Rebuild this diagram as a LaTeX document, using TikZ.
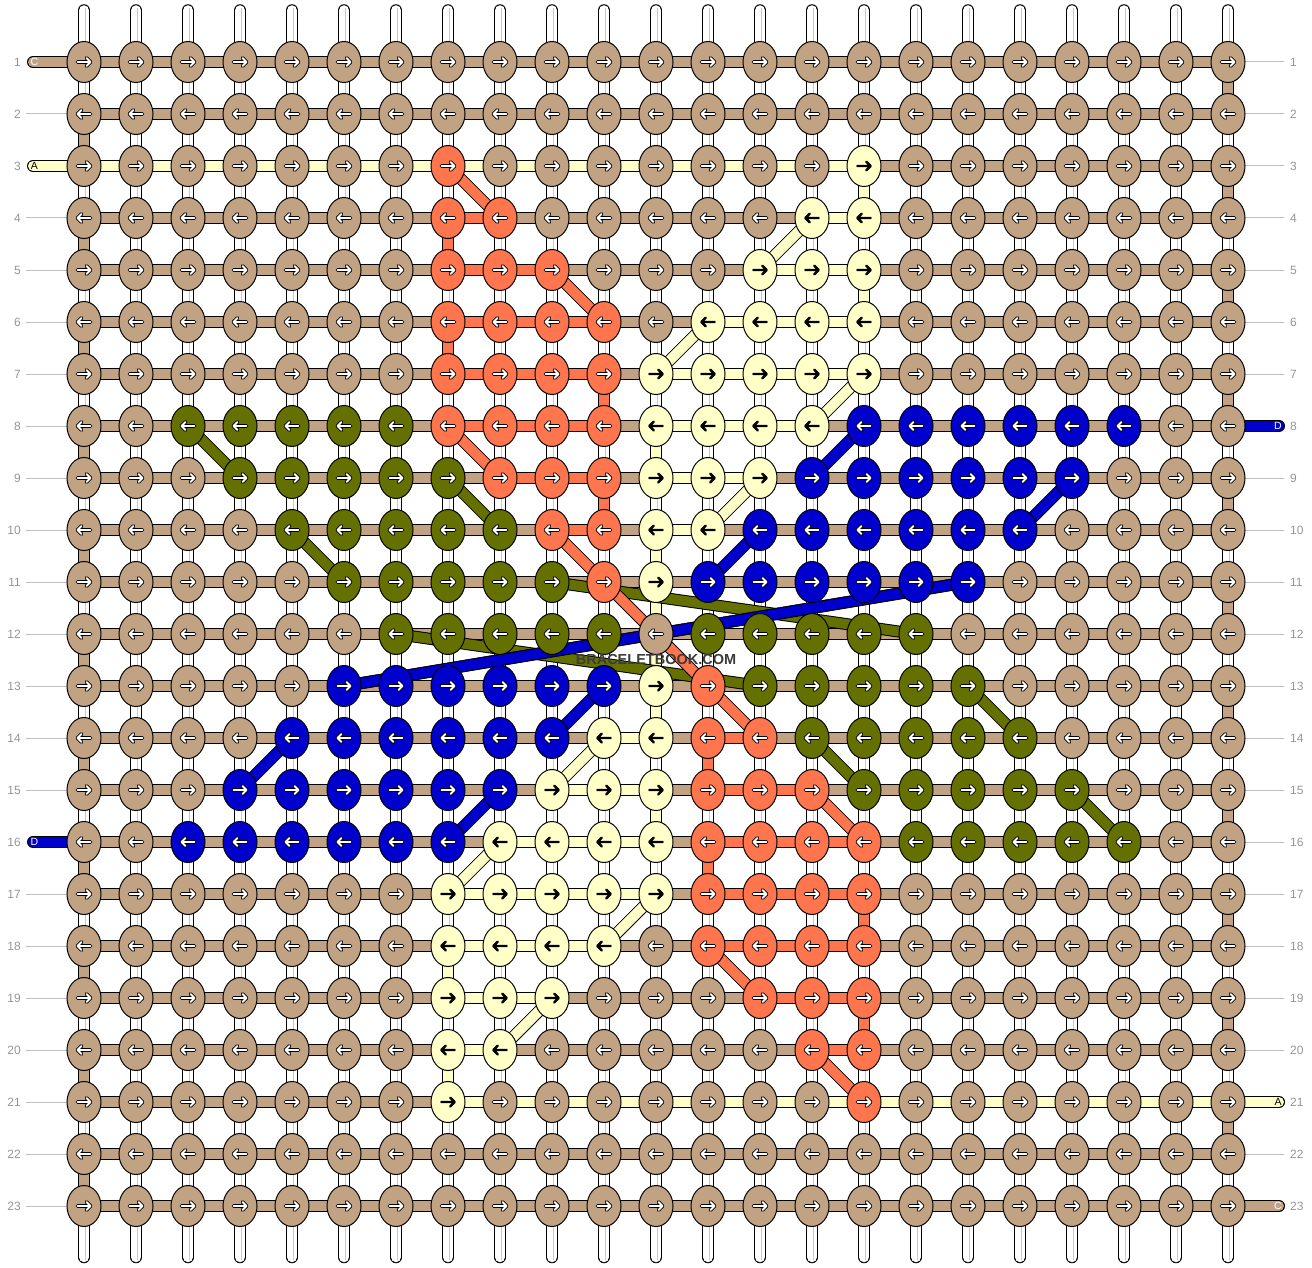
\documentclass[tikz,border=0pt]{standalone}
\usepackage{fontspec}
\setmainfont{Liberation Sans}
\usetikzlibrary{shapes.geometric}
\definecolor{cB}{RGB}{193,162,131}
\definecolor{cO}{RGB}{255,117,77}
\definecolor{cY}{RGB}{255,255,200}
\definecolor{cG}{RGB}{100,112,0}
\definecolor{cU}{RGB}{0,0,204}
\definecolor{lblgrey}{RGB}{150,150,150}
\definecolor{linegrey}{RGB}{190,190,190}
\definecolor{tubegrey}{RGB}{200,200,200}
\definecolor{wmgrey}{RGB}{60,60,60}
\newcommand\setk[3]{%
  \expandafter\gdef\csname kn@#1@#2\endcsname{#3}%
  \pgfmathtruncatemacro\myMc{24-#1}%
  \pgfmathtruncatemacro\myMr{24-#2}%
  \expandafter\gdef\csname kn@\myMc @\myMr\endcsname{#3}}
\newcommand\setrow[4]{\foreach \cc in {#2,...,#3}{\setk{\cc}{#1}{#4}}}
\newcommand\getk[2]{\ifcsname kn@#1@#2\endcsname\edef\kc{\csname kn@#1@#2\endcsname}\else\def\kc{B}\fi}
\tikzset{
  knot/.style={ellipse,draw=black,line width=1pt,minimum width=34pt,minimum height=41pt,inner sep=0pt},
  arrw/.style={line cap=round,line join=round},
  bandout/.style={line width=12pt,black},
  bandin/.style={line width=10pt},
  stubout/.style={line width=12pt,black,line cap=round},
  stubin/.style={line width=10pt,line cap=round},
  tubeout/.style={line width=12.5pt,black,line cap=round},
  tubein/.style={line width=10.5pt,white,line cap=round},
  tubemid/.style={line width=0.9pt,tubegrey},
  lblline/.style={line width=1pt,linegrey},
  rowlbl/.style={font=\fontsize{12}{12}\selectfont,text=lblgrey,inner sep=0pt},
  stublbl/.style={font=\fontsize{10.5}{10.5}\selectfont,inner sep=0pt},
  wmark/.style={font=\fontsize{14.5}{14.5}\selectfont\bfseries,text=wmgrey,inner sep=0pt}
}
\newcommand\band[3]{\draw[bandout] (#2)--(#3); \draw[bandin,color=#1] (#2)--(#3);}
\newcommand\vconn[3]{%
  \pgfmathtruncatemacro\myRa{#2+1}%
  \band{#3}{p-#1-#2}{p-#1-\myRa}%
  \pgfmathtruncatemacro\myMc{24-#1}%
  \pgfmathtruncatemacro\myMr{24-#2}%
  \pgfmathtruncatemacro\myMrr{23-#2}%
  \band{#3}{p-\myMc-\myMrr}{p-\myMc-\myMr}}
\newcommand\dconn[5]{%
  \band{#5}{p-#1-#2}{p-#3-#4}%
  \pgfmathtruncatemacro\myDa{24-#1}%
  \pgfmathtruncatemacro\myDb{24-#2}%
  \pgfmathtruncatemacro\myDc{24-#3}%
  \pgfmathtruncatemacro\myDd{24-#4}%
  \band{#5}{p-\myDa-\myDb}{p-\myDc-\myDd}}
\begin{document}
\begin{tikzpicture}[x=1pt,y=-1pt]
\useasboundingbox (0,0) rectangle (1312,1268);
\fill[white] (0,0) rectangle (1312,1268);
% knot colours (top half; mirrored by 180 degree symmetry)
\setk{8}{3}{O} \setk{16}{3}{Y}
\setrow{4}{8}{9}{O} \setrow{4}{15}{16}{Y}
\setrow{5}{8}{10}{O} \setrow{5}{14}{16}{Y}
\setrow{6}{8}{11}{O} \setrow{6}{13}{16}{Y}
\setrow{7}{8}{11}{O} \setrow{7}{12}{16}{Y}
\setrow{8}{3}{7}{G} \setrow{8}{8}{11}{O} \setrow{8}{12}{15}{Y} \setrow{8}{16}{21}{U}
\setrow{9}{4}{8}{G} \setrow{9}{9}{11}{O} \setrow{9}{12}{14}{Y} \setrow{9}{15}{20}{U}
\setrow{10}{5}{9}{G} \setrow{10}{10}{11}{O} \setrow{10}{12}{13}{Y} \setrow{10}{14}{19}{U}
\setrow{11}{6}{10}{G} \setk{11}{11}{O} \setk{12}{11}{Y} \setrow{11}{13}{18}{U}
\setrow{12}{7}{11}{G}
\def\tmpY{Y}\def\tmpG{G}\def\tmpU{U}
% coordinates
\foreach \r in {1,...,23}{\foreach \c in {1,...,23}{%
  \pgfmathsetmacro\X{84+52*(\c-1)}\pgfmathsetmacro\Y{62+52*(\r-1)}%
  \coordinate (p-\c-\r) at (\X,\Y);}}
% vertical base strings
\foreach \c in {1,...,23}{%
  \pgfmathsetmacro\X{84+52*(\c-1)}%
  \coordinate (tt-\c) at (\X,10.5); \coordinate (tb-\c) at (\X,1257);
  \coordinate (mt-\c) at (\X+1.5,8); \coordinate (mb-\c) at (\X+1.5,1260);
  \draw[tubeout] (tt-\c)--(tb-\c);
  \draw[tubein] (tt-\c)--(tb-\c);
  \draw[tubemid] (mt-\c)--(mb-\c);}
% row label lines
\foreach \r in {2,4,5,6,7,8,9,10,11,12,13,14,15,17,18,19,20,21,22,23}{%
  \pgfmathsetmacro\Y{62+52*(\r-1)}\coordinate (gl-\r) at (26,\Y);
  \draw[lblline] (gl-\r)--(p-1-\r);}
\foreach \r in {1,2,3,4,5,6,7,9,10,11,12,13,14,15,16,17,18,19,20,22}{%
  \pgfmathsetmacro\Y{62+52*(\r-1)}\coordinate (gr-\r) at (1284,\Y);
  \draw[lblline] (gr-\r)--(p-23-\r);}
% string ends
\coordinate (sl-1) at (33,62); \coordinate (sl-3) at (33,166); \coordinate (sl-16) at (33,842);
\coordinate (sr-8) at (1279,426); \coordinate (sr-21) at (1279,1102); \coordinate (sr-23) at (1279,1206);
\draw[stubout] (sl-1)--(p-1-1); \draw[stubin,color=cB] (sl-1)--(p-1-1);
\draw[stubout] (sl-3)--(p-1-3); \draw[stubin,color=cY] (sl-3)--(p-1-3);
\draw[stubout] (sl-16)--(p-1-16); \draw[stubin,color=cU] (sl-16)--(p-1-16);
\draw[stubout] (sr-8)--(p-23-8); \draw[stubin,color=cU] (sr-8)--(p-23-8);
\draw[stubout] (sr-21)--(p-23-21); \draw[stubin,color=cY] (sr-21)--(p-23-21);
\draw[stubout] (sr-23)--(p-23-23); \draw[stubin,color=cB] (sr-23)--(p-23-23);
% turns of the working string at the edges
\foreach \r in {1,3,...,21}{\pgfmathtruncatemacro\rn{\r+1}\band{cB}{p-23-\r}{p-23-\rn}}
\foreach \r in {2,4,...,22}{\pgfmathtruncatemacro\rn{\r+1}\band{cB}{p-1-\r}{p-1-\rn}}
% coloured vertical links
\vconn{8}{4}{cO} \vconn{8}{6}{cO} \vconn{11}{7}{cO} \vconn{11}{9}{cO}
\vconn{16}{3}{cY} \vconn{16}{5}{cY} \vconn{12}{8}{cY} \vconn{12}{10}{cY} \vconn{12}{11}{cY}
% horizontal links
\foreach \r in {1,...,23}{\foreach \c in {1,...,22}{%
  \pgfmathtruncatemacro\cn{\c+1}%
  \getk{\c}{\r}\let\ka\kc \getk{\cn}{\r}\let\kb\kc
  \def\hc{B}\ifx\ka\kb\let\hc\ka\fi
  \ifx\hc\tmpG\def\hc{B}\fi
  \ifx\hc\tmpU\def\hc{B}\fi
  \ifnum\r=3 \ifnum\c<16 \def\hc{Y}\fi\fi
  \ifnum\r=21 \ifnum\c>7 \def\hc{Y}\fi\fi
  \band{c\hc}{p-\c-\r}{p-\cn-\r}}}
% diagonal links
\dconn{3}{8}{4}{9}{cG} \dconn{8}{9}{9}{10}{cG} \dconn{5}{10}{6}{11}{cG} \dconn{10}{11}{17}{12}{cG}
\dconn{16}{8}{15}{9}{cU} \dconn{20}{9}{19}{10}{cU} \dconn{14}{10}{13}{11}{cU} \dconn{18}{11}{6}{13}{cU}
\dconn{8}{3}{9}{4}{cO} \dconn{10}{5}{11}{6}{cO} \dconn{8}{8}{9}{9}{cO} \dconn{10}{10}{11}{11}{cO}
\dconn{11}{11}{13}{13}{cO}
\dconn{15}{4}{14}{5}{cY} \dconn{13}{6}{12}{7}{cY} \dconn{16}{7}{15}{8}{cY} \dconn{14}{9}{13}{10}{cY}
% knots
\foreach \r in {1,...,23}{\foreach \c in {1,...,23}{%
  \getk{\c}{\r}%
  \pgfmathsetmacro\X{84+52*(\c-1)}\pgfmathsetmacro\Y{62+52*(\r-1)}%
  \node[knot,fill=c\kc] (k-\c-\r) at (p-\c-\r) {};
  \ifodd\r\relax\def\dir{1}\else\def\dir{-1}\fi
  \ifx\kc\tmpY
    \draw[black,line width=2.4pt,arrw,shift={(\X,\Y)},xscale=\dir] (-6.6,0)--(6.6,0) (2.2,-4.4)--(6.6,0)--(2.2,4.4);
  \else
    \draw[black,line width=3.8pt,arrw,shift={(\X,\Y)},xscale=\dir] (-6.5,0)--(6.5,0) (2.4,-4.1)--(6.5,0)--(2.4,4.1);
    \draw[white,line width=1.8pt,arrw,shift={(\X,\Y)},xscale=\dir] (-6.5,0)--(6.5,0) (2.4,-4.1)--(6.5,0)--(2.4,4.1);
  \fi}}
% row numbers
\foreach \r in {1,...,23}{%
  \pgfmathsetmacro\Y{62+52*(\r-1)}%
  \node[rowlbl,anchor=east] (ll-\r) at (21,\Y) {\r};
  \node[rowlbl,anchor=west] (rl-\r) at (1290,\Y) {\r};}
% string names
\node[stublbl,text=white] (nl-1) at (34.5,62) {C};
\node[stublbl,text=black] (nl-3) at (34.5,166) {A};
\node[stublbl,text=white] (nl-16) at (34.5,842) {D};
\node[stublbl,text=white] (nr-8) at (1278,426) {D};
\node[stublbl,text=black] (nr-21) at (1278,1102) {A};
\node[stublbl,text=white] (nr-23) at (1278,1206) {C};
% watermark
\node[wmark] (wm) at (656,660) {BRACELETBOOK.COM};
\end{tikzpicture}
\end{document}
